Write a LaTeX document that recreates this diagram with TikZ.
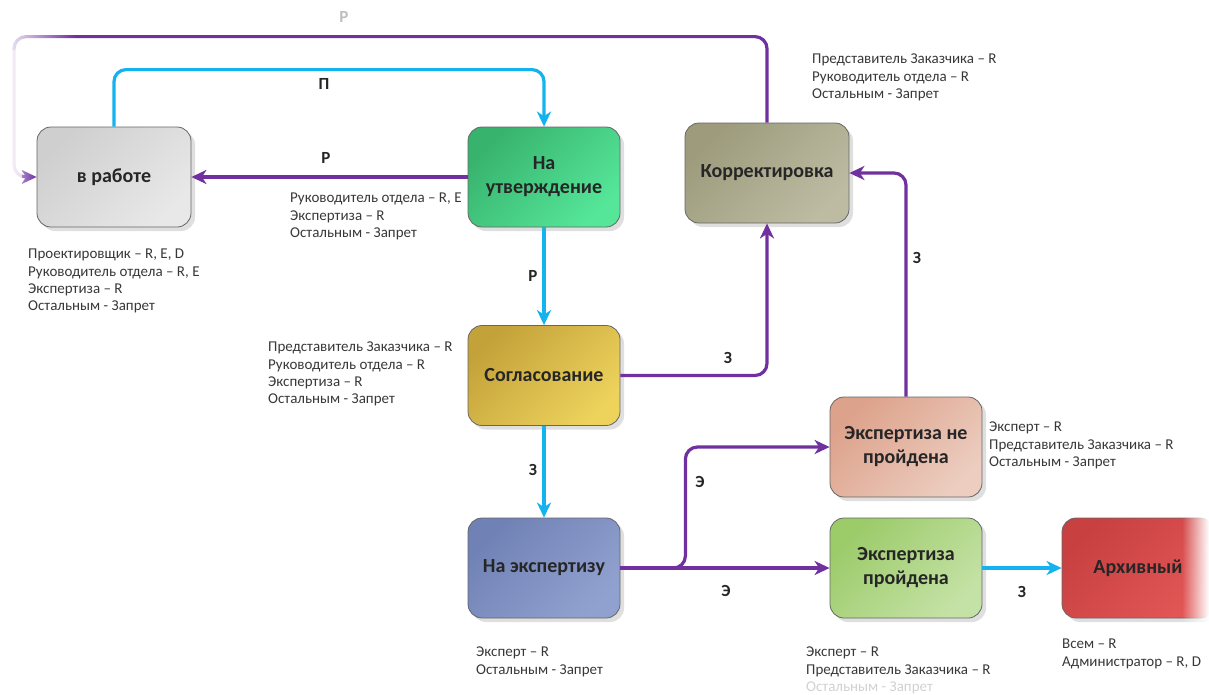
\documentclass[tikz,border=0pt]{standalone}
\usepackage{fontspec}
\setmainfont{Carlito}
\usetikzlibrary{arrows.meta,shadows,fadings}
\definecolor{vio}{HTML}{7030A0}
\definecolor{sky}{HTML}{14B2EE}
\definecolor{raba}{HTML}{CFCFCF}\definecolor{rabb}{HTML}{E8E8E8}
\definecolor{utva}{HTML}{38B36E}\definecolor{utvb}{HTML}{55E699}
\definecolor{korra}{HTML}{9D9B7C}\definecolor{korrb}{HTML}{BDBCA3}
\definecolor{sogla}{HTML}{C4A23A}\definecolor{soglb}{HTML}{EDD25C}
\definecolor{nepra}{HTML}{DDA28B}\definecolor{neprb}{HTML}{ECCDC0}
\definecolor{expa}{HTML}{7081B5}\definecolor{expb}{HTML}{91A1CF}
\definecolor{proa}{HTML}{9CCB6A}\definecolor{prob}{HTML}{C5E2A6}
\definecolor{arca}{HTML}{C84040}\definecolor{arcb}{HTML}{E25656}
\tikzfading[name=fadeL, left color=transparent!0, right color=transparent!100]
\tikzfading[name=fadeR, left color=transparent!100, right color=transparent!0]
\begin{document}
\begin{tikzpicture}[x=1pt,y=-1pt,
  state/.style={rectangle, draw=black!60, line width=0.8pt, rounded corners=14pt,
    minimum width=152pt, minimum height=100pt, inner sep=2pt, align=center,
    font=\bfseries\fontsize{20}{24}\selectfont, text=black!85,
    drop shadow={shadow xshift=4pt, shadow yshift=-4pt, fill=black!25}},
  shd/.style 2 args={top color=#1, bottom color=#2, shading angle=45},
  conn/.style={line width=3.2pt, rounded corners=12pt, -{Stealth[length=15pt,width=14pt,inset=4.5pt]}},
  vline/.style={conn, draw=vio},
  bline/.style={conn, draw=sky},
  lbl/.style={font=\bfseries\fontsize{17}{20}\selectfont, text=black!85, inner sep=0pt},
  info/.style={anchor=north west, inner sep=0pt, align=left,
    font=\fontsize{15}{17.2}\selectfont, text=black!78}]
\useasboundingbox (0,0) rectangle (1209,694);

% states
\node[state, shd={raba}{rabb}, minimum width=154pt] (rab) at (114,177) {в работе};
\node[state, shd={utva}{utvb}] (utv) at (544,177) {На\\утверждение};
\node[state, shd={korra}{korrb}, minimum width=164pt] (korr) at (767,173) {Корректировка};
\node[state, shd={sogla}{soglb}] (sogl) at (544,375.5) {Согласование};
\node[state, shd={nepra}{neprb}] (nepr) at (906,447) {Экспертиза не\\пройдена};
\node[state, shd={expa}{expb}] (naexp) at (544,568) {На экспертизу};
\node[state, shd={proa}{prob}] (proid) at (906,568) {Экспертиза\\пройдена};
\node[state, shd={arca}{arcb}] (arch) at (1138,568) {Архивный};
\fill[white, path fading=fadeR] (1182,505) rectangle (1209,635);

% connectors
\draw[bline] (rab.north) -- ++(0,-57) -| (utv.north);
\node[lbl] (lP) at (324,84) {П};
\draw[vline] (utv.west) -- (rab.east);
\node[lbl] (lR1) at (326,158) {Р};
\draw[vline] (korr.north) -- ++(0,-86) -| (14,177) -- (rab.west);
\node[lbl, text=black!25] (lR0) at (344,17) {Р};
\fill[white, path fading=fadeL] (0,25) rectangle (75,50);
\fill[white, opacity=0.75] (0,50) rectangle (22,195);
\fill[white, path fading=fadeL] (0,50) rectangle (36,195);
\draw[bline] (utv.south) -- (sogl.north);
\node[lbl] (lR2) at (533,276) {Р};
\draw[vline] (sogl.east) -| (korr.south);
\node[lbl] (lZ1) at (728,358) {З};
\draw[bline] (sogl.south) -- (naexp.north);
\node[lbl] (lZ2) at (533,470) {З};
\draw[vline] (naexp.east) -- ++(65,0) |- (nepr.west);
\node[lbl] (lE1) at (700,482) {Э};
\draw[vline] (naexp.east) -- (proid.west);
\node[lbl] (lE2) at (726,591) {Э};
\draw[vline] (nepr.north) |- (korr.east);
\node[lbl] (lZ3) at (917,258) {З};
\draw[bline] (proid.east) -- (arch.west);
\node[lbl] (lZ4) at (1022,592) {З};

% access notes
\node[info] (i1) at (28,249) {Проектировщик – R, E, D\\Руководитель отдела – R, E\\Экспертиза – R\\Остальным - Запрет};
\node[info] (i2) at (290,193) {Руководитель отдела – R, E\\Экспертиза – R\\Остальным - Запрет};
\node[info] (i3) at (812,54) {Представитель Заказчика – R\\Руководитель отдела – R\\Остальным - Запрет};
\node[info] (i4) at (268,342) {Представитель Заказчика – R\\Руководитель отдела – R\\Экспертиза – R\\Остальным - Запрет};
\node[info] (i5) at (989,422) {Эксперт – R\\Представитель Заказчика – R\\Остальным - Запрет};
\node[info] (i6) at (476,647) {Эксперт – R\\Остальным - Запрет};
\node[info] (i7) at (806,647) {Эксперт – R\\Представитель Заказчика – R\\{\color{black!18}Остальным - Запрет}};
\node[info] (i8) at (1062,639) {Всем – R\\Администратор – R, D};
\end{tikzpicture}
\end{document}
